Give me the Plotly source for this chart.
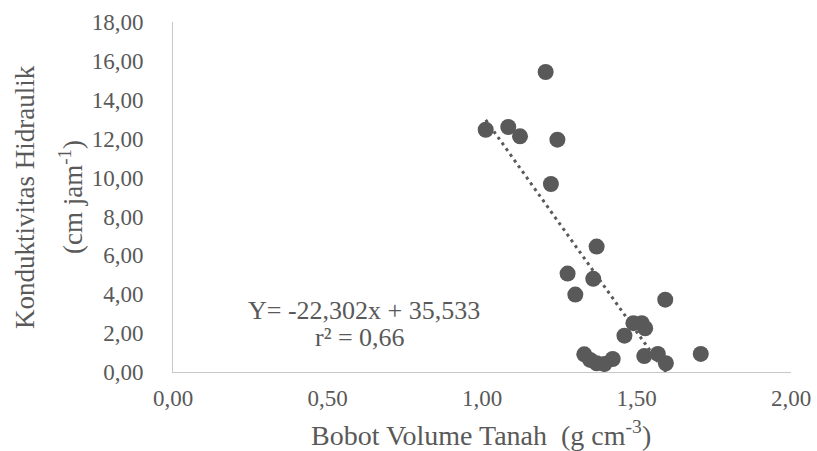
import plotly.graph_objects as go

# Data
bulk_density = [1.206, 1.012, 1.085, 1.123, 1.244, 1.223, 1.371, 1.277, 1.360, 1.302,
                1.593, 1.490, 1.517, 1.528, 1.461, 1.331, 1.350, 1.371, 1.396, 1.423,
                1.525, 1.569, 1.595, 1.708]
conductivity = [15.43, 12.46, 12.60, 12.12, 11.95, 9.67, 6.45, 5.06, 4.79, 3.98,
                3.72, 2.51, 2.51, 2.25, 1.87, 0.91, 0.62, 0.45, 0.41, 0.67,
                0.82, 0.93, 0.45, 0.93]

slope = -22.302
intercept = 35.533

x_ticks = [0, 0.5, 1.0, 1.5, 2.0]
y_ticks = [0, 2, 4, 6, 8, 10, 12, 14, 16, 18]

GRAY = "#595959"
FONT = "Liberation Serif"
W, H = 817, 451
plot_left, plot_right, plot_top, plot_bottom = 173, 791, 22, 372

x_min = min(bulk_density)
x_max = max(bulk_density)
trend_x = [x_min, x_max]
trend_y = [slope * v + intercept for v in trend_x]

fig = go.Figure()
fig.add_trace(go.Scatter(
    x=trend_x, y=trend_y, mode="lines",
    line=dict(color=GRAY, width=3, dash="3px,4px"),
    hoverinfo="skip", showlegend=False,
))
fig.add_trace(go.Scatter(
    x=bulk_density, y=conductivity, mode="markers",
    marker=dict(color=GRAY, size=16, line=dict(width=0)),
    showlegend=False,
))

# convert page pixels to paper (plot-area) fractions
def px_x(p):
    return (p - plot_left) / (plot_right - plot_left)

def px_y(p):
    return (plot_bottom - p) / (plot_bottom - plot_top)

# Equation
fig.add_annotation(
    x=px_x(364), y=px_y(310), xref="paper", yref="paper",
    xanchor="center", yanchor="middle",
    text="Y= -22,302x + 35,533",
    showarrow=False, font=dict(family=FONT, size=26, color=GRAY),
)
fig.add_annotation(
    x=px_x(360), y=px_y(337), xref="paper", yref="paper",
    xanchor="center", yanchor="middle",
    text="r² = 0,66",
    showarrow=False, font=dict(family=FONT, size=26, color=GRAY),
)

# Axis titles
fig.add_annotation(
    x=px_x(481), y=px_y(433), xref="paper", yref="paper",
    xanchor="center", yanchor="middle",
    text="Bobot Volume Tanah  (g cm<sup>-3</sup>)",
    showarrow=False, font=dict(family=FONT, size=28, color=GRAY),
)
fig.add_annotation(
    x=px_x(25), y=px_y(197), xref="paper", yref="paper",
    xanchor="center", yanchor="middle", textangle=-90,
    text="Konduktivitas Hidraulik",
    showarrow=False, font=dict(family=FONT, size=27, color=GRAY),
)
fig.add_annotation(
    x=px_x(71), y=px_y(197), xref="paper", yref="paper",
    xanchor="center", yanchor="middle", textangle=-90,
    text="(cm jam<sup>-1</sup>)",
    showarrow=False, font=dict(family=FONT, size=27, color=GRAY),
)

fig.update_layout(
    width=W, height=H,
    margin=dict(l=plot_left, r=W - plot_right, t=plot_top, b=H - plot_bottom),
    plot_bgcolor="white", paper_bgcolor="white",
    separators=",.",
    font=dict(family=FONT, color=GRAY),
    xaxis=dict(
        range=[0, 2], tickvals=x_ticks, tickformat=".2f", automargin=False,
        showgrid=False, zeroline=False, showline=True, linecolor="#c8c8c8", linewidth=1,
        ticks="", tickfont=dict(family=FONT, size=23, color=GRAY), ticklabelstandoff=5,
    ),
    yaxis=dict(
        range=[0, 18], tickvals=y_ticks, tickformat=".2f", automargin=False,
        showgrid=False, zeroline=False, showline=True, linecolor="#c8c8c8", linewidth=1,
        ticks="", tickfont=dict(family=FONT, size=23, color=GRAY), ticklabelstandoff=24,
    ),
)

fig.write_html("out.html")
